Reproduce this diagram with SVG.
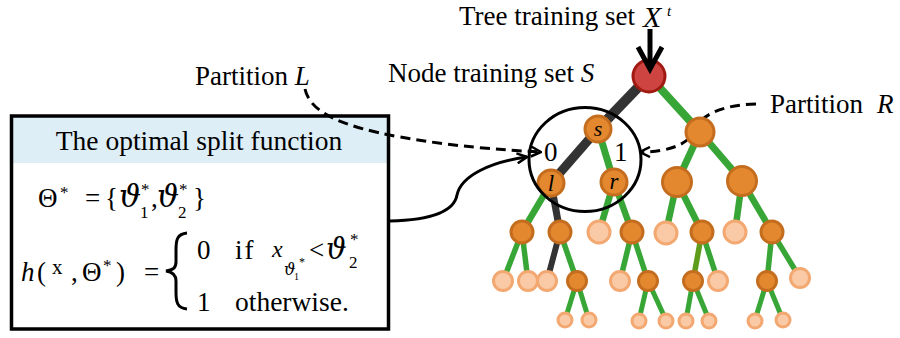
<svg xmlns="http://www.w3.org/2000/svg" width="900" height="338" viewBox="0 0 900 338">
<style>
.t{font-family:"Liberation Serif","DejaVu Serif",serif;font-size:27px;fill:#000}
.i{font-style:italic}
.s{font-size:17px}
.th{font-family:"DejaVu Serif","Liberation Serif",serif;font-style:italic;font-size:31px}
.g{stroke:#38a636;fill:none;stroke-linecap:butt}
.d{stroke:#333;fill:none}
.dk{fill:#e3882f;stroke:#c46d1f;stroke-width:3}
.lt{fill:#f9caa5;stroke:#f3a771;stroke-width:3}
.dash{fill:none;stroke:#000;stroke-width:3;stroke-dasharray:10 6}
</style>
<defs>
<marker id="ah" viewBox="0 0 12 12" refX="11" refY="6" markerWidth="12" markerHeight="12" markerUnits="userSpaceOnUse" orient="auto">
<path d="M1,1 L11,6 L1,11" fill="none" stroke="#000" stroke-width="2.5"/>
</marker>
</defs>
<rect width="900" height="338" fill="#fff"/>

<g id="split-box">
<rect x="12" y="117" width="376" height="46" fill="#deeef6"/>
<rect x="11.5" y="116" width="377" height="213" fill="none" stroke="#000" stroke-width="3.5"/>
<text class="t" x="199" y="150" text-anchor="middle" style="font-size:27.5px">The optimal split function</text>
<text class="t" x="38" y="207">Θ</text>
<text class="t s" x="60" y="198">*</text>
<text class="t" x="85" y="207">=</text>
<text class="t" x="105" y="207">{</text>
<text class="th" x="119" y="207">ϑ</text>
<text class="t s" x="140" y="218">1</text>
<text class="t s" x="141" y="195">*</text>
<text class="t" x="151" y="207">,</text>
<text class="th" x="157" y="207">ϑ</text>
<text class="t s" x="178" y="218">2</text>
<text class="t s" x="179" y="195">*</text>
<text class="t" x="193" y="207">}</text>
<text class="t i" x="21" y="281">h</text>
<text class="t" x="37" y="281">(</text>
<text class="t" x="52" y="274" style="font-size:21px">x</text>
<text class="t" x="71" y="281">,</text>
<text class="t" x="82" y="281">Θ</text>
<text class="t s" x="103" y="271">*</text>
<text class="t" x="116" y="281">)</text>
<text class="t" x="144" y="281">=</text>
<path d="M187,233 C177,234 176,240 176,250 L176,262 C176,268 173,270 166,271 C173,272 176,275 176,281 L176,292 C176,302 177,308 187,309" fill="none" stroke="#000" stroke-width="3"/>
<text class="t" x="197" y="259">0</text>
<text class="t" x="235" y="259" style="letter-spacing:2px">if</text>
<text class="t i" x="272" y="257" style="font-size:24px">x</text>
<text class="th" x="284" y="275" style="font-size:16px">ϑ</text>
<text class="t" x="294" y="280" style="font-size:10px">1</text>
<text class="t" x="299" y="266" style="font-size:12px">*</text>
<text class="t" x="309" y="259">&lt;</text>
<text class="th" x="326" y="259" style="font-size:29px">ϑ</text>
<text class="t s" x="349" y="268">2</text>
<text class="t s" x="350" y="245">*</text>
<text class="t" x="197" y="311">1</text>
<text class="t" x="235" y="311" style="font-size:27.5px">otherwise.</text>
</g>

<g id="labels">
<text class="t" x="459" y="25">Tree training set</text>
<text class="t i" x="643" y="27" style="font-size:30px">X</text>
<text class="t i" x="667" y="16" style="font-size:15px">t</text>
<text class="t" x="388" y="82">Node training set <tspan class="i">S</tspan></text>
<text class="t" x="195" y="85">Partition <tspan class="i">L</tspan></text>
<text class="t" x="770" y="113">Partition <tspan class="i" x="877">R</tspan></text>
</g>

<g id="connectors">
<path class="dash" d="M305,89 C310,112 340,126 400,137 C450,146 500,150 541,152" marker-end="url(#ah)"/>
<path class="dash" d="M756,104 C720,105 700,116 695,130 C688,146 665,152 640,152" marker-end="url(#ah)"/>
<path d="M390,221 C430,220 454,212 457,195 C461,176 490,162 527,157" fill="none" stroke="#000" stroke-width="3" marker-end="url(#ah)"/>

<line class="g" x1="649" y1="76" x2="700" y2="132" stroke-width="8"/>
<line class="g" x1="700" y1="132" x2="677" y2="182" stroke-width="7"/>
<line class="g" x1="700" y1="132" x2="742" y2="181" stroke-width="7"/>
<line class="g" x1="598" y1="129" x2="614" y2="182" stroke-width="7"/>
<line class="g" x1="551" y1="183" x2="522" y2="232" stroke-width="6.5"/>
<line class="g" x1="614" y1="182" x2="599" y2="232" stroke-width="6.5"/>
<line class="g" x1="614" y1="182" x2="632" y2="232" stroke-width="6.5"/>
<line class="g" x1="677" y1="182" x2="666" y2="232" stroke-width="6.5"/>
<line class="g" x1="677" y1="182" x2="702" y2="232" stroke-width="6.5"/>
<line class="g" x1="742" y1="181" x2="735" y2="232" stroke-width="6.5"/>
<line class="g" x1="742" y1="181" x2="772" y2="232" stroke-width="6.5"/>
<line class="g" x1="522" y1="232" x2="503" y2="281" stroke-width="5.5"/>
<line class="g" x1="522" y1="232" x2="528" y2="281" stroke-width="5.5"/>
<line class="g" x1="560" y1="232" x2="577" y2="281" stroke-width="5.5"/>
<line class="g" x1="632" y1="232" x2="620" y2="281" stroke-width="5.5"/>
<line class="g" x1="632" y1="232" x2="648" y2="281" stroke-width="5.5"/>
<line x1="702" y1="232" x2="693" y2="281" stroke="#5e9c1c" stroke-width="5.5"/>
<line class="g" x1="702" y1="232" x2="718" y2="281" stroke-width="5.5"/>
<line class="g" x1="772" y1="232" x2="767" y2="281" stroke-width="5.5"/>
<line class="g" x1="772" y1="232" x2="800" y2="278" stroke-width="5.5"/>
<line class="g" x1="577" y1="281" x2="565" y2="320" stroke-width="5"/>
<line class="g" x1="577" y1="281" x2="589" y2="320" stroke-width="5"/>
<line class="g" x1="648" y1="281" x2="639" y2="320" stroke-width="5"/>
<line class="g" x1="648" y1="281" x2="666" y2="320" stroke-width="5"/>
<line class="g" x1="693" y1="281" x2="686" y2="320" stroke-width="5"/>
<line class="g" x1="693" y1="281" x2="709" y2="320" stroke-width="5"/>
<line class="g" x1="767" y1="281" x2="755" y2="320" stroke-width="5"/>
<line class="g" x1="767" y1="281" x2="783" y2="320" stroke-width="5"/>
<polyline class="d" points="649,76 598,129" stroke-width="10"/>
<polyline class="d" points="598,129 551,183" stroke-width="9"/>
<polyline class="d" points="551,183 560,232" stroke-width="7"/>
<polyline class="d" points="560,232 547,281" stroke-width="6"/>
</g>

<g id="root"><circle cx="649" cy="76" r="16" fill="#cd4440" stroke="#a01a12" stroke-width="3"/></g>
<g id="node-s"><circle class="dk" cx="598" cy="129" r="13"/><text class="t i" x="598" y="136" text-anchor="middle" style="font-size:22px">s</text></g>
<g id="node-R1"><circle class="dk" cx="700" cy="132" r="14"/></g>
<g id="node-l"><circle class="dk" cx="551" cy="183" r="13"/><text class="t i" x="551" y="191" text-anchor="middle" style="font-size:23px">l</text></g>
<g id="node-r"><circle class="dk" cx="614" cy="182" r="13"/><text class="t i" x="614" y="189" text-anchor="middle" style="font-size:23px">r</text></g>
<g id="node-R2a"><circle class="dk" cx="677" cy="182" r="14.5"/></g>
<g id="node-R2b"><circle class="dk" cx="742" cy="181" r="14.5"/></g>
<g id="n3a"><circle class="dk" cx="522" cy="232" r="11"/></g>
<g id="n3b"><circle class="dk" cx="560" cy="232" r="11"/></g>
<g id="n3c"><circle class="lt" cx="599" cy="232" r="11"/></g>
<g id="n3d"><circle class="dk" cx="632" cy="232" r="11"/></g>
<g id="n3e"><circle class="lt" cx="666" cy="233" r="11"/></g>
<g id="n3f"><circle class="dk" cx="702" cy="232" r="11"/></g>
<g id="n3g"><circle class="lt" cx="735" cy="232" r="11"/></g>
<g id="n3h"><circle class="dk" cx="772" cy="232" r="11"/></g>
<g id="n4a"><circle class="lt" cx="503" cy="281" r="9.5"/></g>
<g id="n4b"><circle class="lt" cx="528" cy="281" r="9.5"/></g>
<g id="n4c"><circle class="lt" cx="547" cy="281" r="9.5"/></g>
<g id="n4d"><circle class="dk" cx="577" cy="281" r="9.5"/></g>
<g id="n4e"><circle class="lt" cx="620" cy="281" r="9.5"/></g>
<g id="n4f"><circle class="dk" cx="648" cy="281" r="9.5"/></g>
<g id="n4g"><circle class="dk" cx="693" cy="281" r="9.5"/></g>
<g id="n4h"><circle class="lt" cx="718" cy="281" r="9.5"/></g>
<g id="n4i"><circle class="dk" cx="767" cy="281" r="9.5"/></g>
<g id="n4j"><circle class="lt" cx="800" cy="278" r="9.5"/></g>
<g id="n5a"><circle class="lt" cx="565" cy="320" r="7"/></g>
<g id="n5b"><circle class="lt" cx="589" cy="320" r="7"/></g>
<g id="n5c"><circle class="lt" cx="639" cy="321" r="7"/></g>
<g id="n5d"><circle class="lt" cx="666" cy="321" r="7"/></g>
<g id="n5e"><circle class="lt" cx="686" cy="321" r="7"/></g>
<g id="n5f"><circle class="lt" cx="709" cy="321" r="7"/></g>
<g id="n5g"><circle class="lt" cx="755" cy="321" r="7"/></g>
<g id="n5h"><circle class="lt" cx="783" cy="320" r="7"/></g>

<g id="node-set-circle">
<ellipse cx="585" cy="159.5" rx="56" ry="52" fill="none" stroke="#000" stroke-width="3"/>
<text class="t" x="544" y="161">0</text>
<text class="t" x="614" y="161">1</text>
</g>

<g id="input-arrow">
<line x1="650" y1="29" x2="650" y2="68" stroke="#000" stroke-width="5"/>
<path d="M638,47 L650,69 L662,47" fill="none" stroke="#000" stroke-width="5" stroke-linejoin="miter"/>
</g>
</svg>
